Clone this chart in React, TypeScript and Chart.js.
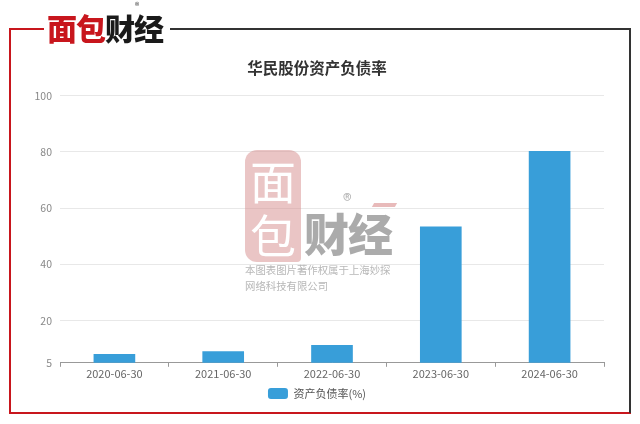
import React, { useEffect, useRef } from "react";
import { Chart, registerables } from "chart.js";

Chart.register(...registerables);

const chartTitle = "华民股份资产负债率";
const seriesLabel = "资产负债率(%)";
const categories = ["2020-06-30", "2021-06-30", "2022-06-30", "2023-06-30", "2024-06-30"];
const debtRatio = [8.0, 9.0, 11.2, 53.3, 80.2];
const yTickValues = [5, 20, 40, 60, 80, 100];
const watermarkLines = ["本图表图片著作权属于上海妙探", "网络科技有限公司"];

const FONT = '"Noto Sans CJK SC", "Noto Sans", sans-serif';
const BAR = "#389ED9";

export default function App() {
  const ref = useRef<HTMLCanvasElement | null>(null);

  useEffect(() => {
    if (!ref.current) return;
    const chart = new Chart(ref.current, {
      type: "bar",
      data: {
        labels: categories,
        datasets: [
          {
            label: seriesLabel,
            data: debtRatio,
            backgroundColor: BAR,
            borderWidth: 0,
            barThickness: 41,
          },
        ],
      },
      options: {
        responsive: false,
        animation: false,
        devicePixelRatio: 1,
        layout: { padding: { top: 59, left: 30, right: 36, bottom: 15 } },
        plugins: {
          title: {
            display: true,
            text: chartTitle,
            color: "#333",
            font: { size: 15.5, weight: "bold", family: FONT },
            padding: { top: 0, bottom: 18 },
          },
          legend: {
            position: "bottom",
            labels: {
              boxWidth: 20,
              boxHeight: 11,
              useBorderRadius: true,
              borderRadius: 3,
              color: "#555",
              padding: 8,
              font: { size: 11, family: FONT },
            },
          },
          tooltip: { enabled: false },
        },
        scales: {
          x: {
            grid: {
              drawOnChartArea: false,
              drawTicks: true,
              tickLength: 4,
              color: "#999",
              offset: true,
            },
            border: { color: "#999", width: 1 },
            ticks: { color: "#666", padding: 0, font: { size: 11, family: FONT } },
          },
          y: {
            min: 5,
            max: 100,
            afterBuildTicks: (s: any) => {
              s.ticks = yTickValues.map((v) => ({ value: v }));
            },
            afterFit: (s: any) => {
              s.width = 30;
            },
            grid: { color: "#e8e8e8", drawTicks: false },
            border: { display: false },
            ticks: { color: "#888", padding: 8, font: { size: 10.5, family: FONT } },
          },
        },
      },
    });
    return () => chart.destroy();
  }, []);

  const abs = (s: React.CSSProperties): React.CSSProperties => ({ position: "absolute", ...s });

  return (
    <div style={abs({ left: 0, top: 0, width: 640, height: 424, background: "#fff", overflow: "hidden", fontFamily: FONT })}>
      <canvas ref={ref} width={640} height={424} style={abs({ left: 0, top: 0, width: 640, height: 424 })} />
      {/* frame */}
      <div style={abs({ left: 9, top: 28, width: 35, height: 2, background: "#c8161d" })} />
      <div style={abs({ left: 9, top: 28, width: 2, height: 386, background: "#c8161d" })} />
      <div style={abs({ left: 9, top: 412, width: 622, height: 2, background: "#c8161d" })} />
      <div style={abs({ left: 170, top: 28, width: 461, height: 2, background: "#333" })} />
      <div style={abs({ left: 629, top: 28, width: 2, height: 385, background: "#333" })} />
      {/* logo */}
      <div style={abs({ left: 47, top: 7, fontSize: 30, fontWeight: 900, letterSpacing: -1, lineHeight: "40px", whiteSpace: "nowrap" })}>
        <span style={{ color: "#c8161d" }}>面包</span>
        <span style={{ color: "#1a1a1a" }}>财经</span>
      </div>
      <div style={abs({ left: 135, top: 1, fontSize: 9, color: "#333", lineHeight: "10px" })}>®</div>
      {/* watermark */}
      <div style={abs({ left: 245, top: 150, width: 56, height: 112, background: "rgba(214,140,140,0.5)", borderRadius: "12px 12px 4px 12px", pointerEvents: "none" })}>
        <div style={{ color: "#fff", fontSize: 46, fontWeight: 400, lineHeight: "54px", textAlign: "center", marginTop: 2 }}>面</div>
        <div style={{ color: "#fff", fontSize: 46, fontWeight: 400, lineHeight: "54px", textAlign: "center" }}>包</div>
      </div>
      <div style={abs({ left: 304, top: 203, fontSize: 45, fontWeight: 900, color: "rgba(150,150,150,0.8)", lineHeight: "60px", letterSpacing: -1, whiteSpace: "nowrap" })}>财经</div>
      <div style={abs({ left: 343, top: 189, fontSize: 18, color: "rgba(150,150,150,0.75)", lineHeight: "20px" })}>®</div>
      <div style={abs({ left: 373, top: 203, width: 23, height: 4, background: "rgba(214,130,130,0.55)", transform: "skewX(-30deg)" })} />
      <div style={abs({ left: 245, top: 262, fontSize: 10.4, color: "rgba(170,170,170,0.85)", lineHeight: "16px", whiteSpace: "nowrap" })}>
        <div>{watermarkLines[0]}</div>
        <div>{watermarkLines[1]}</div>
      </div>
    </div>
  );
}
